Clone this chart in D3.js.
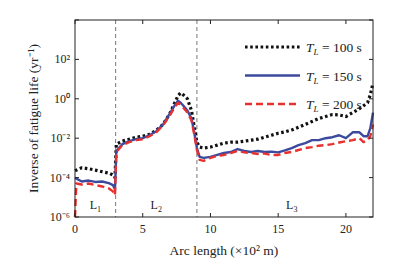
<!DOCTYPE html>
<html>
<head>
<meta charset="utf-8">
<script src="https://cdn.jsdelivr.net/npm/d3@7"></script>
<style>
  body { margin: 0; background: #fff; }
  text { font-family: "Liberation Serif", "Times New Roman", serif; fill: #222; }
</style>
</head>
<body>
<div id="chart"></div>
<script>
// arc length (x10^2 m) sample points shared by all three curves
const arcLength = [0, 0.1, 0.5, 1, 1.5, 2, 2.5, 2.8, 2.95, 3.05, 3.5, 4, 4.5, 5, 5.5, 6, 6.5, 7, 7.3, 7.6, 7.8, 8.0, 8.3, 8.6, 8.8, 9.0, 9.2, 9.5,
  10, 10.5, 11, 11.5, 12, 12.5, 13, 13.5, 14, 14.5, 15, 15.5, 16, 16.5, 17, 17.5, 18, 18.5, 19, 19.5, 20, 20.5, 21, 21.3, 21.6, 21.8, 22];

// log10 of inverse fatigue life (yr^-1)
const logT100 = [-3.65, -3.62, -3.5, -3.55, -3.62, -3.7, -3.77, -3.87, -4.0, -2.3, -2.15, -2.05, -1.95, -1.9, -1.8, -1.6, -1.3, -0.75, -0.3, 0.15, 0.3, 0.2, 0.0, -0.6, -1.4, -2.2, -2.45, -2.5,
  -2.45, -2.35, -2.25, -2.2, -2.2, -2.15, -2.1, -2.05, -1.95, -1.85, -1.75, -1.68, -1.58, -1.45, -1.3, -1.15, -1.0, -0.9, -0.8, -0.82, -0.9, -0.7, -0.5, -0.35, -0.2, 0.2, 0.8];
const logT150 = [-4.0, -4.05, -4.2, -4.15, -4.22, -4.2, -4.28, -4.38, -4.6, -2.65, -2.3, -2.15, -2.05, -2.0, -1.85, -1.65, -1.3, -0.75, -0.4, -0.1, -0.2, -0.35, -0.6, -1.0, -1.7, -2.5, -2.95, -3.0,
  -2.95, -2.85, -2.75, -2.7, -2.55, -2.65, -2.7, -2.65, -2.7, -2.68, -2.72, -2.62, -2.5, -2.35, -2.25, -2.1, -2.1, -2.0, -1.95, -1.85, -2.0, -1.7, -1.7, -1.9, -1.9, -1.5, -0.7];
const logT200 = [-6.0, -4.3, -4.35, -4.3, -4.38, -4.45, -4.55, -4.7, -4.9, -2.7, -2.35, -2.2, -2.1, -2.05, -1.9, -1.7, -1.35, -0.85, -0.5, -0.2, -0.3, -0.45, -0.7, -1.1, -1.8, -2.6, -3.1, -3.15,
  -3.0, -2.9, -2.85, -2.75, -2.65, -2.72, -2.75, -2.8, -2.78, -2.85, -2.85, -2.75, -2.7, -2.6, -2.5, -2.45, -2.38, -2.35, -2.3, -2.22, -2.15, -2.1, -2.0, -2.2, -2.1, -1.9, -1.3];

const xTicks = [0, 5, 10, 15, 20];
const yTickExps = [-6, -4, -2, 0, 2];
const segmentBounds = [3, 9];
const segmentLabels = [{name: "L", sub: "1", x: 1.5}, {name: "L", sub: "2", x: 6}, {name: "L", sub: "3", x: 16}];
const seriesNames = ["100", "150", "200"];

const width = 394, height = 267;
const margin = {top: 20, left: 75, right: 21, bottom: 50};
const w = width - margin.left - margin.right,
      h = height - margin.top - margin.bottom;

const svg = d3.select("#chart").append("svg")
  .attr("width", width).attr("height", height)
  .style("background-color", "#fff");

const g = svg.append("g").attr("transform", "translate(" + margin.left + "," + margin.top + ")");

const x = d3.scaleLinear().domain([0, 22]).range([0, w]);
const y = d3.scaleLog().domain([1e-6, 1e4]).range([h, 0]);

const supMap = {"-": "\u207B", "0": "\u2070", "1": "\u00B9", "2": "\u00B2", "4": "\u2074", "6": "\u2076"};
const supText = function(e) { return String(e).split("").map(c => supMap[c]).join(""); };

// segment dividers
g.selectAll(".divider").data(segmentBounds).enter().append("line")
  .attr("x1", d => x(d)).attr("x2", d => x(d))
  .attr("y1", 0).attr("y2", h)
  .attr("stroke", "#555").attr("stroke-width", 0.8)
  .attr("stroke-dasharray", "4,3");

// curves
const series = [
  {vals: logT100, color: "#111", width: 3.2, dash: "2.6,2.6"},
  {vals: logT150, color: "#3c4a9e", width: 2.4, dash: null},
  {vals: logT200, color: "#e8312f", width: 2.4, dash: "7,4"}
];
const line = d3.line()
  .x(d => x(d[0]))
  .y(d => y(Math.pow(10, d[1])));

// draw order: 100 (back), then 150, then 200 on top
series.forEach(function(s) {
  g.append("path")
    .datum(arcLength.map((a, i) => [a, s.vals[i]]))
    .attr("d", line)
    .attr("fill", "none")
    .attr("stroke", s.color)
    .attr("stroke-width", s.width)
    .attr("stroke-linejoin", "round")
    .attr("stroke-dasharray", s.dash);
});

// frame
g.append("rect").attr("width", w).attr("height", h)
  .attr("fill", "none").attr("stroke", "#222").attr("stroke-width", 1);

// x ticks (bottom + top, inward)
g.selectAll(".xt").data(xTicks).enter().append("line")
  .attr("x1", d => x(d)).attr("x2", d => x(d)).attr("y1", h).attr("y2", h - 4)
  .attr("stroke", "#222");
g.selectAll(".xtt").data(xTicks).enter().append("line")
  .attr("x1", d => x(d)).attr("x2", d => x(d)).attr("y1", 0).attr("y2", 4)
  .attr("stroke", "#222");
g.selectAll(".xl").data(xTicks).enter().append("text")
  .attr("x", d => x(d)).attr("y", h + 16)
  .attr("text-anchor", "middle").style("font-size", "12px")
  .text(d => d);

// y ticks (left + right, inward)
const yAll = [-6, -4, -2, 0, 2, 4];
g.selectAll(".yt").data(yAll).enter().append("line")
  .attr("x1", 0).attr("x2", 4).attr("y1", d => y(Math.pow(10, d))).attr("y2", d => y(Math.pow(10, d)))
  .attr("stroke", "#222");
g.selectAll(".ytr").data(yAll).enter().append("line")
  .attr("x1", w).attr("x2", w - 4).attr("y1", d => y(Math.pow(10, d))).attr("y2", d => y(Math.pow(10, d)))
  .attr("stroke", "#222");
g.selectAll(".yl").data(yTickExps).enter().append("text")
  .attr("x", -5).attr("y", d => y(Math.pow(10, d)) + 4)
  .attr("text-anchor", "end").style("font-size", "12px")
  .text(d => "10" + supText(d));

// segment labels
segmentLabels.forEach(function(s) {
  const t = g.append("text").attr("x", x(s.x)).attr("y", h - 8)
    .attr("text-anchor", "middle").style("font-size", "12px");
  t.append("tspan").text(s.name);
  t.append("tspan").attr("dy", 3).style("font-size", "8px").text(s.sub);
});

// legend
const legend = g.selectAll(".legend").data(series).enter().append("g")
  .attr("transform", (d, i) => "translate(170," + (27 + i * 28.5) + ")");
legend.append("line")
  .attr("x1", 0).attr("x2", 55).attr("y1", 0).attr("y2", 0)
  .attr("stroke", d => d.color).attr("stroke-width", d => d.width)
  .attr("stroke-dasharray", d => d.dash);
legend.each(function(d, i) {
  const t = d3.select(this).append("text").attr("x", 61).attr("y", 5).style("font-size", "13.5px");
  t.append("tspan").style("font-style", "italic").text("T");
  t.append("tspan").attr("dy", 3).style("font-size", "9px").style("font-style", "italic").text("L");
  t.append("tspan").attr("dy", -3).text(" = " + seriesNames[i] + " s");
});

// axis titles
svg.append("text")
  .attr("x", margin.left + w / 2).attr("y", height - 12)
  .attr("text-anchor", "middle").style("font-size", "13.5px")
  .text("Arc length (\u00D710\u00B2 m)");

svg.append("text")
  .attr("transform", "translate(38," + (margin.top + h / 2) + ") rotate(-90)")
  .attr("text-anchor", "middle").style("font-size", "13.5px")
  .text("Inverse of fatigue life (yr\u207B\u00B9)");
</script>
</body>
</html>
